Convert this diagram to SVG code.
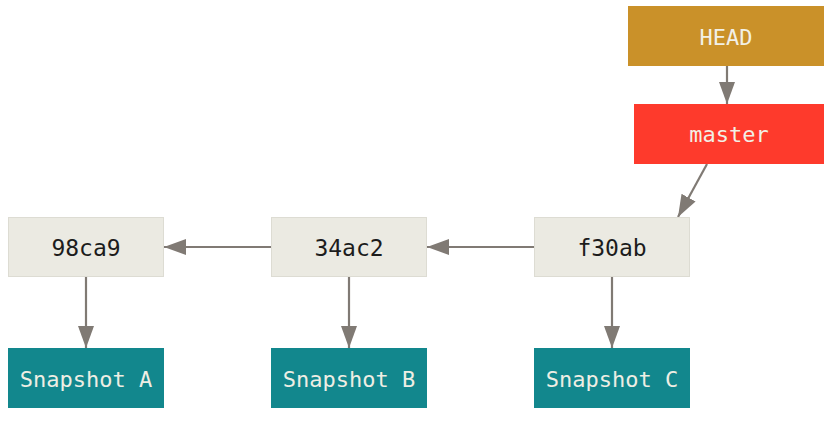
<svg xmlns="http://www.w3.org/2000/svg" width="837" height="427" viewBox="0 0 837 427">
<style>
.t{font-family:"DejaVu Sans Mono",monospace;font-size:22px;text-anchor:middle;dominant-baseline:central}
.commit rect{fill:#EBEAE2;stroke:#DDDCD3;stroke-width:1}
.commit text{fill:#1C1C1C;font-size:23px}
.snap rect{fill:#12878D}
.snap text{fill:#EEEEE4}
.lbl text{fill:#F2F0E6}
.c{stroke:#807A74;stroke-width:2.2;fill:none;marker-end:url(#ah)}
</style>
<defs>
<marker id="ah" markerUnits="userSpaceOnUse" markerWidth="24" markerHeight="18" refX="22" refY="8" orient="auto">
<path d="M0,0 L22,8 L0,16 Z" fill="#807A74"/>
</marker>
</defs>
<rect width="837" height="427" fill="#FFFFFF"/>
<g id="connectors">
<line class="c" x1="727" y1="66" x2="727" y2="104"/>
<line class="c" x1="707" y1="164" x2="678" y2="217"/>
<line class="c" x1="534" y1="247" x2="427" y2="247"/>
<line class="c" x1="271" y1="247" x2="164" y2="247"/>
<line class="c" x1="86" y1="277" x2="86" y2="348"/>
<line class="c" x1="349" y1="277" x2="349" y2="348"/>
<line class="c" x1="612" y1="277" x2="612" y2="348"/>
</g>
<g id="head" class="lbl"><rect x="628" y="6" width="196" height="60" fill="#CA9129"/><text class="t" x="726" y="37">HEAD</text></g>
<g id="master" class="lbl"><rect x="634" y="104" width="190" height="60" fill="#FE3A2C"/><text class="t" x="729" y="134">master</text></g>
<g id="c98ca9" class="commit"><rect x="8.5" y="217.5" width="155" height="59"/><text class="t" x="86" y="248">98ca9</text></g>
<g id="c34ac2" class="commit"><rect x="271.5" y="217.5" width="155" height="59"/><text class="t" x="349" y="248">34ac2</text></g>
<g id="cf30ab" class="commit"><rect x="534.5" y="217.5" width="155" height="59"/><text class="t" x="612" y="248">f30ab</text></g>
<g id="snapA" class="snap"><rect x="8" y="348" width="156" height="60"/><text class="t" x="86" y="379">Snapshot A</text></g>
<g id="snapB" class="snap"><rect x="271" y="348" width="156" height="60"/><text class="t" x="349" y="379">Snapshot B</text></g>
<g id="snapC" class="snap"><rect x="534" y="348" width="156" height="60"/><text class="t" x="612" y="379">Snapshot C</text></g>
</svg>
